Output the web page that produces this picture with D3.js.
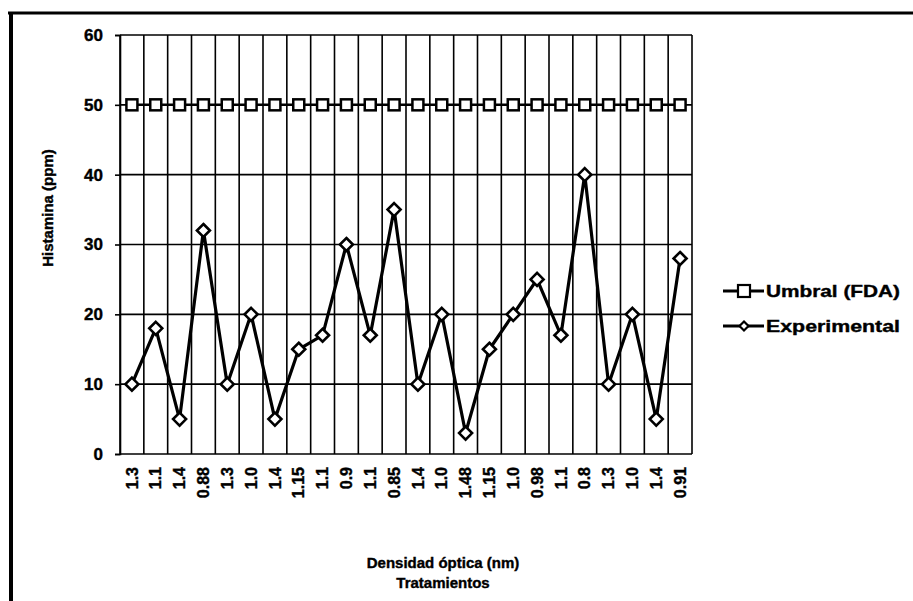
<!DOCTYPE html>
<html><head><meta charset="utf-8">
<script src="https://cdn.jsdelivr.net/npm/d3@7"></script>
<style>html,body{margin:0;padding:0;background:#fff;}svg{display:block;}</style>
</head><body>
<svg id="chart" width="913" height="601"></svg>
<script>
const categories = ["1.3","1.1","1.4","0.88","1.3","1.0","1.4","1.15","1.1","0.9","1.1","0.85","1.4","1.0","1.48","1.15","1.0","0.98","1.1","0.8","1.3","1.0","1.4","0.91"];
const umbral = [50,50,50,50,50,50,50,50,50,50,50,50,50,50,50,50,50,50,50,50,50,50,50,50];
const experimental = [10,18,5,32,10,20,5,15,17,30,17,35,10,20,3,15,20,25,17,40,10,20,5,28];
const yTicks = [0,10,20,30,40,50,60];
const seriesNames = ["Umbral (FDA)","Experimental"];

const svg = d3.select("#chart");
const font = "'Liberation Sans', Arial, sans-serif";
const L = 120, R = 692, T = 35, B = 454;

// outer frame
svg.append("line").attr("x1",8).attr("x2",913).attr("y1",13).attr("y2",13).attr("stroke","#000").attr("stroke-width",3);
svg.append("line").attr("x1",11).attr("x2",11).attr("y1",12).attr("y2",601).attr("stroke","#000").attr("stroke-width",4);

const x = d3.scaleBand().domain(d3.range(categories.length)).range([L,R]);
const y = d3.scaleLinear().domain([0,60]).range([B,T]);

const g = svg.append("g");
g.selectAll("line.h").data(yTicks).join("line").attr("class","h")
  .attr("x1",L).attr("x2",R).attr("y1",d=>y(d)).attr("y2",d=>y(d))
  .attr("stroke","#000").attr("stroke-width",1.6);
const bounds = d3.range(categories.length+1).map(i => i<categories.length ? x(i) : x(i-1)+x.bandwidth());
g.selectAll("line.v").data(bounds).join("line").attr("class","v")
  .attr("x1",d=>d).attr("x2",d=>d).attr("y1",T).attr("y2",B)
  .attr("stroke","#000").attr("stroke-width",1.6);

// y axis
const yAxis = d3.axisLeft(y).tickValues(yTicks).tickSize(5).tickPadding(12);
const ya = svg.append("g").attr("transform",`translate(${L},0)`).call(yAxis);
ya.select(".domain").attr("stroke","#000").attr("stroke-width",1.6);
ya.selectAll(".tick line").attr("stroke","#000").attr("stroke-width",1.6);
ya.selectAll("text").attr("font-family",font).attr("font-weight","bold").attr("font-size",17).attr("fill","#000")
  .attr("stroke","#000").attr("stroke-width",0.4);

// x axis
const xAxis = d3.axisBottom(x).tickFormat(i=>categories[i]).tickSize(0).tickPadding(0);
const xa = svg.append("g").attr("transform",`translate(0,${B})`).call(xAxis);
xa.select(".domain").remove();
xa.selectAll("text").attr("font-family",font).attr("font-weight","bold").attr("font-size",16).attr("fill","#000")
  .attr("stroke","#000").attr("stroke-width",0.4)
  .attr("transform","rotate(-90)").attr("text-anchor","end").attr("dy","0.35em").attr("x",-13).attr("y",0);

const cx = i => x(i)+x.bandwidth()/2;
const line = d3.line().x((d,i)=>cx(i)).y(d=>y(d));

// Umbral
svg.append("path").datum(umbral).attr("d",line).attr("fill","none").attr("stroke","#000").attr("stroke-width",2.5);
svg.selectAll("rect.u").data(umbral).join("rect").attr("class","u")
  .attr("x",(d,i)=>cx(i)-5.5).attr("y",d=>y(d)-5.5).attr("width",11).attr("height",11)
  .attr("fill","#fff").attr("stroke","#000").attr("stroke-width",2.5);

// Experimental
svg.append("path").datum(experimental).attr("d",line).attr("fill","none").attr("stroke","#000").attr("stroke-width",3.2);
const diamond = (px,py,s)=>`M${px},${py-s}L${px+s},${py}L${px},${py+s}L${px-s},${py}Z`;
svg.selectAll("path.e").data(experimental).join("path").attr("class","e")
  .attr("d",(d,i)=>diamond(cx(i),y(d),6.5))
  .attr("fill","#fff").attr("stroke","#000").attr("stroke-width",2.6);

// axis titles
const tAttrs = sel => sel.attr("font-family",font).attr("font-weight","bold").attr("fill","#000").attr("stroke","#000").attr("stroke-width",0.4);
svg.append("text").attr("transform","translate(53,208) rotate(-90)").attr("text-anchor","middle")
  .attr("font-size",15).call(tAttrs).text("Histamina (ppm)");
svg.append("text").attr("x",443).attr("y",568).attr("text-anchor","middle")
  .attr("font-size",15).call(tAttrs).text("Densidad óptica (nm)");
svg.append("text").attr("x",443).attr("y",588).attr("text-anchor","middle")
  .attr("font-size",15).call(tAttrs).text("Tratamientos");

// legend
const lg = svg.append("g");
const ly = [291,326];
seriesNames.forEach((n,k)=>{
  lg.append("line").attr("x1",723).attr("x2",764).attr("y1",ly[k]).attr("y2",ly[k]).attr("stroke","#000").attr("stroke-width",2.8);
  if(k===0){
    lg.append("rect").attr("x",738).attr("y",ly[k]-6).attr("width",12).attr("height",12).attr("fill","#fff").attr("stroke","#000").attr("stroke-width",2.2);
  } else {
    lg.append("path").attr("d",diamond(744,ly[k],4.5)).attr("fill","#fff").attr("stroke","#000").attr("stroke-width",2.2);
  }
  lg.append("text").attr("x",766).attr("y",ly[k]).attr("dy","0.36em").attr("font-size",17)
    .attr("textLength",134).attr("lengthAdjust","spacingAndGlyphs").call(tAttrs).text(n);
});
</script>
</body></html>
